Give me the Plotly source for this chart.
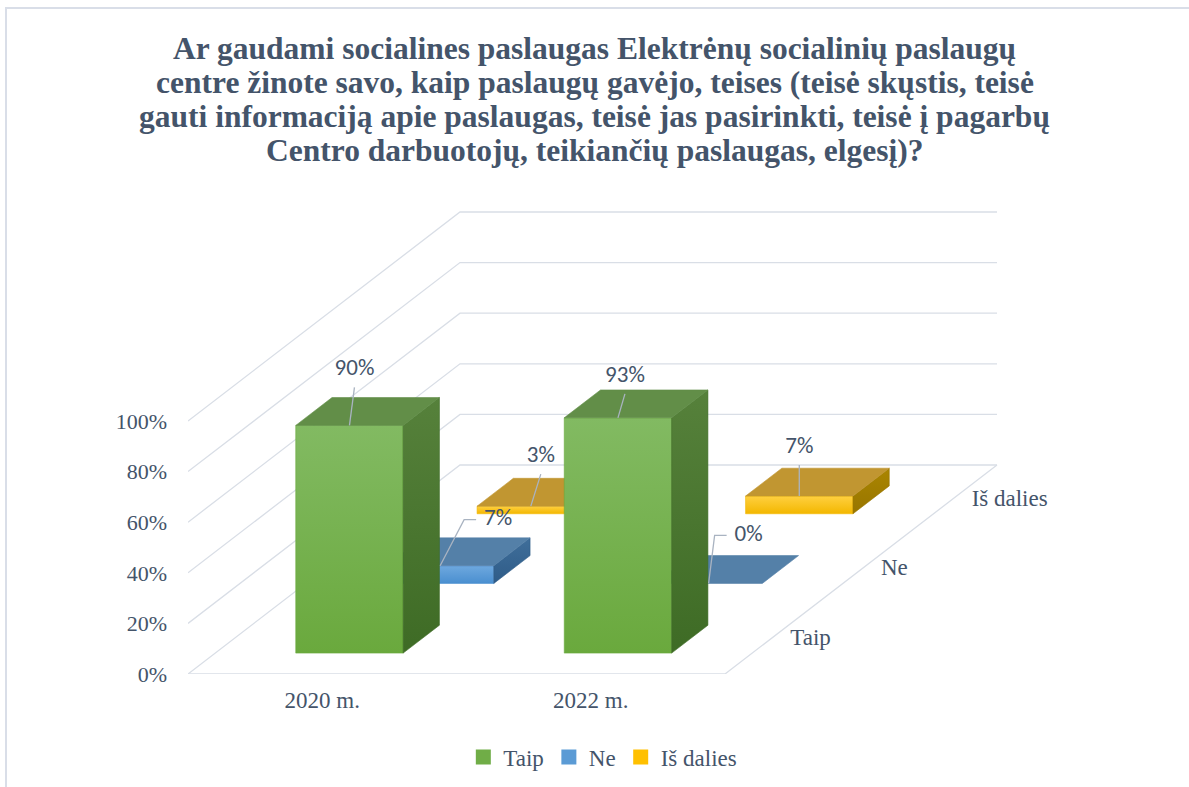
import plotly.graph_objects as go

# ---------------- data ----------------
categories = ["2020 m.", "2022 m."]
series_names = ["Taip", "Ne", "Iš dalies"]
taip_values = [90, 93]
ne_values = [7, 0]
is_dalies_values = [3, 7]
y_tick_values = [0, 20, 40, 60, 80, 100]
y_tick_labels = ["0%", "20%", "40%", "60%", "80%", "100%"]
title_lines = [
    "Ar gaudami socialines paslaugas Elektrėnų socialinių paslaugų",
    "centre žinote savo, kaip paslaugų gavėjo, teises (teisė skųstis, teisė",
    "gauti informaciją apie paslaugas, teisė jas pasirinkti, teisė į pagarbų",
    "Centro darbuotojų, teikiančių paslaugas, elgesį)?",
]

series_values = [taip_values, ne_values, is_dalies_values]

# ---------------- styling / geometry ----------------
W, H = 1189, 787
ML, MR, MT, MB = 188, 189, 200, 113
PLOT_W = W - ML - MR
PLOT_H = H - MT - MB
PX_X = 268.5        # pixels per category
PX_Y = 2.53         # pixels per percent
DX = 272 / PX_X     # depth shift (x) of full depth
DY = 209 / PX_Y     # depth shift (y) of full depth
BAR_W = 0.4
BAR_D = 0.4 / 3
N_SER = 3

TXT = "#44546A"
GRID = "#D9DEE6"
LEADER = "#A9B3C1"
SERIF = "Liberation Serif, Times New Roman, serif"
SANS = "Carlito, Liberation Sans, Arial, sans-serif"

face_colors = {
    "Taip": dict(front=("#6AA93D", "#82BA62"), top="#628E48", side=("#3E6B25", "#56813B"), legend="#70AD47"),
    "Ne": dict(front=("#4A8FD0", "#6EA8DE"), top="#5480A8", side=("#2F5C88", "#3F6E9A"), legend="#5B9BD5"),
    "Iš dalies": dict(front=("#F3B700", "#FFD040"), top="#C19631", side=("#987500", "#AA8500"), legend="#FFC000"),
}

# label offsets in pixels (text centre relative to anchor), elbow flag
label_style = {
    (0, 0): dict(dx=5, dy=-56, elbow=False),
    (0, 1): dict(dx=7, dy=-42, elbow=False),
    (1, 0): dict(dx=58, dy=-46, elbow=True),
    (1, 1): dict(dx=40, dy=-48, elbow=True),
    (2, 0): dict(dx=10, dy=-50, elbow=False),
    (2, 1): dict(dx=0, dy=-49, elbow=False),
}


def proj(x, v, d):
    return x + d * DX, v + d * DY


def px2x(p):
    return p / PX_X


def px2y(p):
    return -p / PX_Y


fig = go.Figure()


def add_line(pts, color=GRID, width=1.3):
    xs, ys = zip(*pts)
    fig.add_trace(go.Scatter(x=list(xs), y=list(ys), mode="lines",
                             line=dict(color=color, width=width),
                             hoverinfo="skip", showlegend=False))


# walls and floor gridlines
n_cat = len(categories)
for v in y_tick_values:
    add_line([proj(0, v, 0), proj(0, v, 1), proj(n_cat, v, 1)])
add_line([proj(0, 0, 0), proj(n_cat, 0, 0), proj(n_cat, 0, 1)])


def add_poly(pts, color):
    xs, ys = zip(*pts)
    xs = list(xs) + [xs[0]]
    ys = list(ys) + [ys[0]]
    kw = {}
    if isinstance(color, tuple):
        kw["fillgradient"] = dict(type="vertical", colorscale=[[0, color[0]], [1, color[1]]])
        lc = color[0]
    else:
        kw["fillcolor"] = color
        lc = color
    fig.add_trace(go.Scatter(x=xs, y=ys, mode="lines", fill="toself",
                             line=dict(color=lc, width=0.6),
                             hoverinfo="skip", showlegend=False, **kw))


# bars, drawn back to front
for j in reversed(range(N_SER)):
    name = series_names[j]
    col = face_colors[name]
    d0 = (j + 0.5) / N_SER - BAR_D / 2
    d1 = d0 + BAR_D
    for i, v in enumerate(series_values[j]):
        x0 = i + 0.5 - BAR_W / 2
        x1 = x0 + BAR_W
        if v > 0:
            add_poly([proj(x0, 0, d0), proj(x1, 0, d0), proj(x1, v, d0), proj(x0, v, d0)], col["front"])
            add_poly([proj(x1, 0, d0), proj(x1, 0, d1), proj(x1, v, d1), proj(x1, v, d0)], col["side"])
        add_poly([proj(x0, v, d0), proj(x1, v, d0), proj(x1, v, d1), proj(x0, v, d1)], col["top"])

# data labels with leader lines
for j in range(N_SER):
    d0 = (j + 0.5) / N_SER - BAR_D / 2
    for i, v in enumerate(series_values[j]):
        ax, ay = proj(i + 0.5, v, d0)
        st = label_style[(j, i)]
        tx = ax + px2x(st["dx"])
        ty = ay + px2y(st["dy"])
        label = f"{v}%"
        if st["elbow"]:
            left = tx - px2x(14)
            add_line([(ax, ay), (left - px2x(20), ty), (left - px2x(8), ty)], LEADER, 1.3)
        else:
            add_line([(ax, ay), (tx, ty + px2y(18))], LEADER, 1.3)
        fig.add_trace(go.Scatter(x=[tx], y=[ty], mode="text", text=[label],
                                 textposition="middle center",
                                 textfont=dict(family=SANS, size=23, color=TXT),
                                 hoverinfo="skip", showlegend=False, cliponaxis=False))

# depth (series) axis labels
for j, name in enumerate(series_names):
    dc = (j + 0.5) / N_SER
    lx, ly = proj(n_cat, 0, dc)
    fig.add_trace(go.Scatter(x=[lx + px2x(20)], y=[ly], mode="text", text=[name],
                             textposition="middle right",
                             textfont=dict(family=SERIF, size=23, color=TXT),
                             hoverinfo="skip", showlegend=False, cliponaxis=False))

# legend entries
for name in series_names:
    fig.add_trace(go.Scatter(x=[None], y=[None], mode="markers", name=name,
                             marker=dict(symbol="square", size=15, color=face_colors[name]["legend"])))

# title lines (baselines ~34 px apart)
TITLE_SIZE = 31.5
title_baselines = [59, 93, 127, 161]
annotations = []
for line, base in zip(title_lines, title_baselines):
    annotations.append(dict(text=f"<b>{line}</b>", xref="paper", yref="paper",
                            x=(W / 2 - ML) / PLOT_W, xanchor="center",
                            y=(H - MB - (base - 0.33 * TITLE_SIZE)) / PLOT_H, yanchor="middle",
                            showarrow=False,
                            font=dict(family=SERIF, size=TITLE_SIZE, color=TXT)))

fig.update_layout(
    width=W, height=H, autosize=False,
    margin=dict(l=ML, r=MR, t=MT, b=MB, pad=0),
    paper_bgcolor="white", plot_bgcolor="white",
    annotations=annotations,
    xaxis=dict(range=[0, PLOT_W / PX_X], showgrid=False, zeroline=False, showline=False,
               tickvals=[i + 0.5 for i in range(n_cat)], ticktext=categories,
               ticks="", ticklabelstandoff=10,
               tickfont=dict(family=SERIF, size=23, color=TXT), fixedrange=True),
    yaxis=dict(range=[0, PLOT_H / PX_Y], showgrid=False, zeroline=False, showline=False,
               tickvals=y_tick_values, ticktext=y_tick_labels,
               ticks="", ticklabelstandoff=20,
               tickfont=dict(family=SERIF, size=22, color=TXT), fixedrange=True),
    legend=dict(orientation="h", x=0.507, xref="container", xanchor="center",
                y=1 - 757 / H, yref="container", yanchor="middle",
                font=dict(family=SERIF, size=23, color=TXT),
                itemsizing="trace", tracegroupgap=0),
    shapes=[dict(type="rect", xref="paper", yref="paper",
                 x0=(6 - ML) / PLOT_W, x1=(1200 - ML) / PLOT_W,
                 y0=(H - MB - 800) / PLOT_H, y1=(H - MB - 8) / PLOT_H,
                 line=dict(color="#D9DEE8", width=2), fillcolor="rgba(0,0,0,0)", layer="below")],
    hovermode=False,
)

fig.write_html("out.html", config={"displayModeBar": False},
               post_script="document.body.style.margin='0px';document.body.style.overflow='hidden';")
